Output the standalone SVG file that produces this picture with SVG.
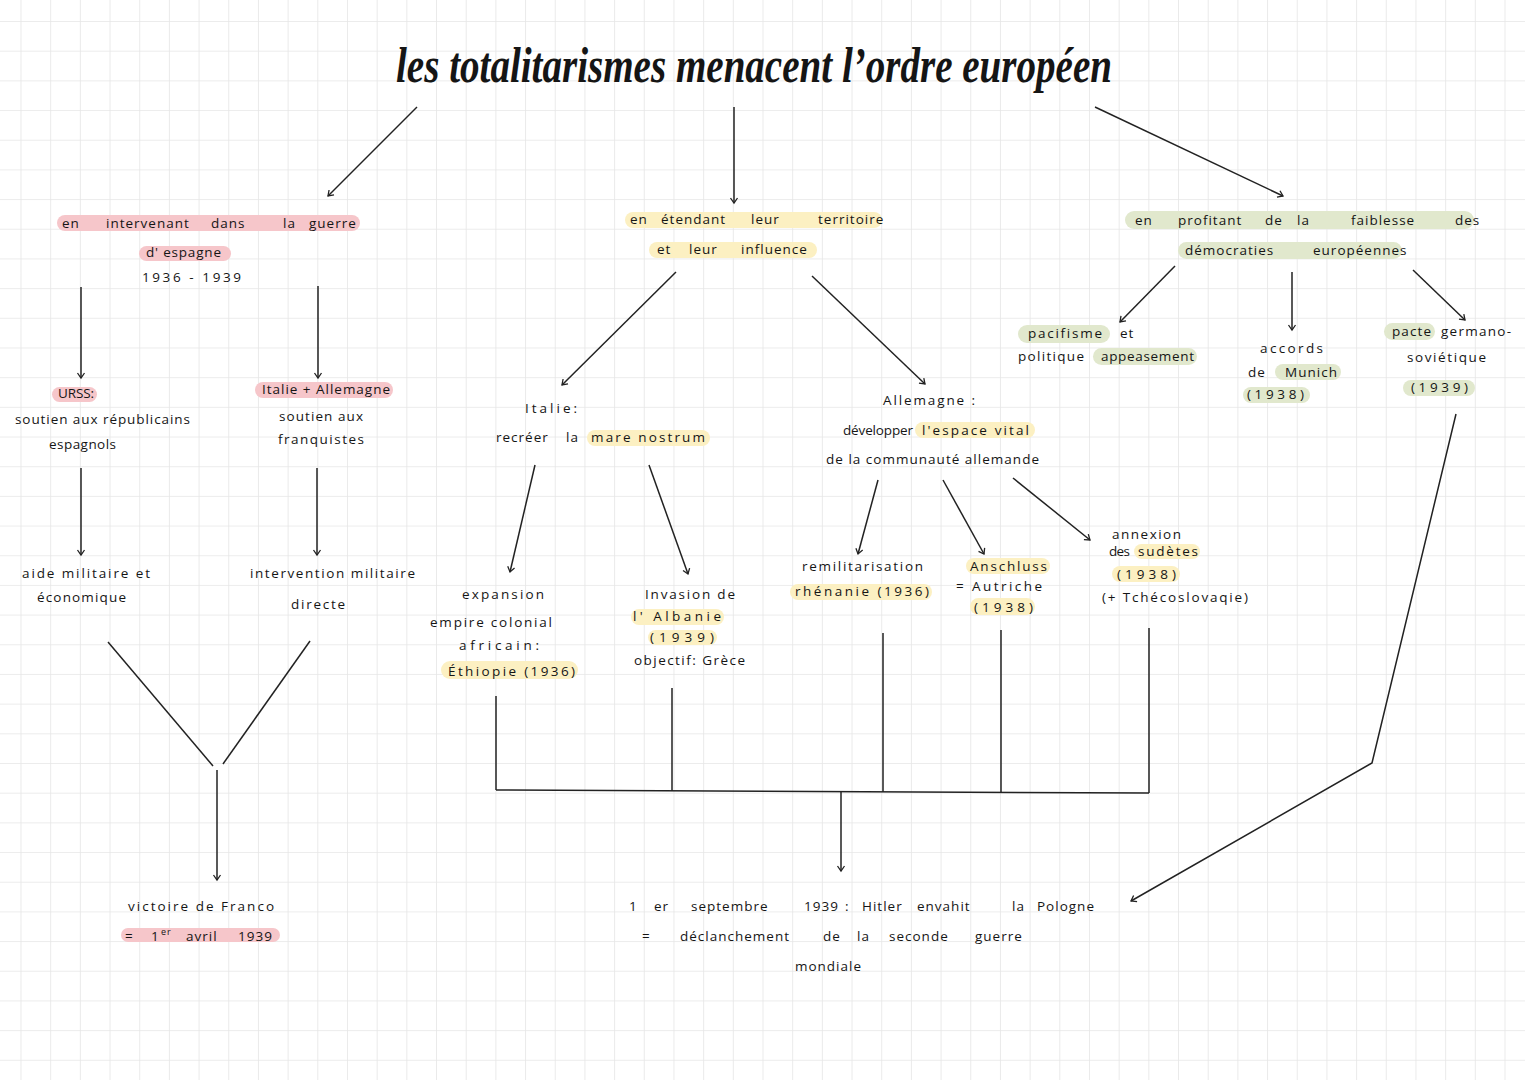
<svg xmlns="http://www.w3.org/2000/svg" width="1525" height="1080" viewBox="0 0 1525 1080">
<defs>
<pattern id="grid" patternUnits="userSpaceOnUse" x="20.5" y="21" width="29.68" height="29.68">
<path d="M0,0 H29.68 M0,0 V29.68" fill="none" stroke="#e6e6e6" stroke-width="1.6"/>
</pattern>
<marker id="ah" markerUnits="userSpaceOnUse" markerWidth="10" markerHeight="10" refX="7" refY="5" orient="auto">
<path d="M2,1.5 L7,5 L2,8.5" fill="none" stroke="#222" stroke-width="1.3"/>
</marker>
<style>
.t{font-family:"Open Sans","DejaVu Sans",sans-serif;font-size:13.5px;fill:#151515;letter-spacing:1px}
.title{font-family:"Liberation Serif","DejaVu Serif",serif;font-style:italic;font-weight:bold;font-size:50px;fill:#151515}
.hp{fill:#f6c6ca}
.hy{fill:#fcf0c2}
.hg{fill:#e1e8cd}
.c{stroke:#222;stroke-width:1.5;fill:none}
.a{marker-end:url(#ah)}
.sup{font-size:9px}
</style>
</defs>
<rect width="1525" height="1080" fill="#ffffff"/>
<rect width="1525" height="1080" fill="url(#grid)"/>

<g id="title">
<text class="title" x="396" y="82" textLength="716" lengthAdjust="spacingAndGlyphs">les totalitarismes menacent l’ordre européen</text>
</g>

<g id="connectors">
<line class="c a" x1="417" y1="107" x2="328" y2="196"/>
<line class="c a" x1="734" y1="107" x2="734" y2="203"/>
<line class="c a" x1="1095" y1="107" x2="1283" y2="196"/>
<line class="c a" x1="81" y1="287" x2="81" y2="378"/>
<line class="c a" x1="318" y1="286" x2="318" y2="378"/>
<line class="c a" x1="81" y1="468" x2="81" y2="555"/>
<line class="c a" x1="317" y1="468" x2="317" y2="555"/>
<line class="c" x1="108" y1="642" x2="213" y2="766"/>
<line class="c" x1="310" y1="641" x2="223" y2="764"/>
<line class="c a" x1="217" y1="770" x2="217" y2="880"/>
<line class="c a" x1="676" y1="272" x2="562" y2="385"/>
<line class="c a" x1="812" y1="276" x2="925" y2="384"/>
<line class="c a" x1="535" y1="465" x2="510" y2="572"/>
<line class="c a" x1="649" y1="465" x2="688" y2="574"/>
<line class="c a" x1="878" y1="480" x2="858" y2="554"/>
<line class="c a" x1="943" y1="480" x2="984" y2="554"/>
<line class="c a" x1="1013" y1="478" x2="1090" y2="540"/>
<line class="c" x1="496" y1="696" x2="496" y2="790"/>
<line class="c" x1="672" y1="688" x2="672" y2="791"/>
<line class="c" x1="883" y1="633" x2="883" y2="792"/>
<line class="c" x1="1001" y1="630" x2="1001" y2="793"/>
<line class="c" x1="1149" y1="628" x2="1149" y2="793"/>
<line class="c" x1="496" y1="790" x2="1149" y2="793"/>
<line class="c a" x1="841" y1="792" x2="841" y2="871"/>
<line class="c a" x1="1175" y1="266" x2="1120" y2="322"/>
<line class="c a" x1="1292" y1="272" x2="1292" y2="330"/>
<line class="c a" x1="1413" y1="270" x2="1465" y2="320"/>
<polyline class="c a" points="1456,414 1372,763 1131,901"/>
</g>

<g id="n-espagne">
<rect class="hp" x="57" y="215" width="303" height="16" rx="8"/>
<rect class="hp" x="139" y="246" width="92" height="15" rx="7.5"/>
<text class="t" y="228"><tspan x="62">en</tspan><tspan x="106">intervenant</tspan><tspan x="211">dans</tspan><tspan x="283">la</tspan><tspan x="309">guerre</tspan></text>
<text class="t" x="146" y="257" textLength="76">d' espagne</text>
<text class="t" x="142" y="282" textLength="100">1936 - 1939</text>
</g>

<g id="n-urss">
<rect class="hp" x="52" y="387" width="45" height="15" rx="7.5"/>
<text class="t" x="58" y="398" textLength="37">URSS:</text>
<text class="t" x="15" y="424" textLength="176">soutien aux républicains</text>
<text class="t" x="49" y="449" textLength="68">espagnols</text>
</g>

<g id="n-italie-allemagne">
<rect class="hp" x="255" y="382" width="138" height="16" rx="8"/>
<text class="t" x="262" y="394" textLength="129">Italie + Allemagne</text>
<text class="t" x="279" y="421" textLength="85">soutien aux</text>
<text class="t" x="278" y="444" textLength="87">franquistes</text>
</g>

<g id="n-aide">
<text class="t" x="22" y="578" textLength="129">aide militaire et</text>
<text class="t" x="37" y="602" textLength="90">économique</text>
</g>

<g id="n-intervention">
<text class="t" x="250" y="578" textLength="166">intervention militaire</text>
<text class="t" x="291" y="609" textLength="55">directe</text>
</g>

<g id="n-franco">
<rect class="hp" x="121" y="928" width="159" height="14" rx="7"/>
<text class="t" x="128" y="911" textLength="147">victoire de Franco</text>
<text class="t" y="941"><tspan x="125">=</tspan><tspan x="151">1</tspan><tspan class="sup" x="161" y="935">er</tspan><tspan x="186" y="941">avril</tspan><tspan x="238">1939</tspan></text>
</g>

<g id="n-territoire">
<rect class="hy" x="625" y="212" width="257" height="16" rx="8"/>
<rect class="hy" x="649" y="242" width="168" height="16" rx="8"/>
<text class="t" y="224"><tspan x="630">en</tspan><tspan x="661">étendant</tspan><tspan x="751">leur</tspan><tspan x="818">territoire</tspan></text>
<text class="t" y="254"><tspan x="657">et</tspan><tspan x="689">leur</tspan><tspan x="741">influence</tspan></text>
</g>

<g id="n-italie">
<rect class="hy" x="587" y="430" width="123" height="16" rx="8"/>
<text class="t" x="525" y="413" textLength="53">Italie:</text>
<text class="t" y="442"><tspan x="496">recréer</tspan><tspan x="566">la</tspan></text>
<text class="t" x="591" y="442" textLength="115">mare nostrum</text>
</g>

<g id="n-expansion">
<rect class="hy" x="441" y="661" width="137" height="18" rx="9"/>
<text class="t" x="462" y="599" textLength="83">expansion</text>
<text class="t" x="430" y="627" textLength="123">empire colonial</text>
<text class="t" x="459" y="650" textLength="81">africain:</text>
<text class="t" x="448" y="676" textLength="128">Éthiopie (1936)</text>
</g>

<g id="n-albanie">
<rect class="hy" x="631" y="609" width="93" height="16" rx="8"/>
<rect class="hy" x="648" y="630" width="69" height="15" rx="7.5"/>
<text class="t" x="645" y="599" textLength="91">Invasion de</text>
<text class="t" x="633" y="621" textLength="89">l' Albanie</text>
<text class="t" x="650" y="642" textLength="65">(1939)</text>
<text class="t" x="634" y="665" textLength="112">objectif: Grèce</text>
</g>

<g id="n-allemagne">
<rect class="hy" x="915" y="422" width="120" height="16" rx="8"/>
<text class="t" x="883" y="405" textLength="93">Allemagne :</text>
<text class="t" x="843" y="435" textLength="71">développer</text>
<text class="t" x="922" y="435" textLength="108">l'espace vital</text>
<text class="t" x="826" y="464" textLength="214">de la communauté allemande</text>
</g>

<g id="n-rhenanie">
<rect class="hy" x="790" y="584" width="142" height="16" rx="8"/>
<text class="t" x="802" y="571" textLength="122">remilitarisation</text>
<text class="t" x="795" y="596" textLength="135">rhénanie (1936)</text>
</g>

<g id="n-anschluss">
<rect class="hy" x="966" y="558" width="84" height="16" rx="8"/>
<rect class="hy" x="970" y="598" width="65" height="17" rx="8.5"/>
<text class="t" x="970" y="571" textLength="78">Anschluss</text>
<text class="t" x="956" y="591" textLength="87">= Autriche</text>
<text class="t" x="974" y="612" textLength="60">(1938)</text>
</g>

<g id="n-sudetes">
<rect class="hy" x="1134" y="544" width="66" height="15" rx="7.5"/>
<rect class="hy" x="1112" y="566" width="68" height="16" rx="8"/>
<text class="t" x="1112" y="539" textLength="70">annexion</text>
<text class="t" x="1109" y="556" textLength="22">des</text>
<text class="t" x="1138" y="556" textLength="61">sudètes</text>
<text class="t" x="1117" y="579" textLength="60">(1938)</text>
<text class="t" x="1102" y="602" textLength="147">(+ Tchécoslovaqie)</text>
</g>

<g id="n-pologne">
<text class="t" y="911"><tspan x="629">1</tspan><tspan x="654">er</tspan><tspan x="691">septembre</tspan><tspan x="804">1939</tspan><tspan x="845">:</tspan><tspan x="862">Hitler</tspan><tspan x="917">envahit</tspan><tspan x="1012">la</tspan><tspan x="1037">Pologne</tspan></text>
<text class="t" y="941"><tspan x="642">=</tspan><tspan x="680">déclanchement</tspan><tspan x="823">de</tspan><tspan x="857">la</tspan><tspan x="889">seconde</tspan><tspan x="975">guerre</tspan></text>
<text class="t" x="795" y="971" textLength="67">mondiale</text>
</g>

<g id="n-faiblesse">
<rect class="hg" x="1125" y="211" width="349" height="18" rx="9"/>
<rect class="hg" x="1178" y="242" width="224" height="17" rx="8.5"/>
<text class="t" y="225"><tspan x="1135">en</tspan><tspan x="1178">profitant</tspan><tspan x="1265">de</tspan><tspan x="1297">la</tspan><tspan x="1351">faiblesse</tspan><tspan x="1455">des</tspan></text>
<text class="t" y="255"><tspan x="1185">démocraties</tspan><tspan x="1313">européennes</tspan></text>
</g>

<g id="n-pacifisme">
<rect class="hg" x="1018" y="325" width="92" height="18" rx="9"/>
<rect class="hg" x="1093" y="348" width="104" height="17" rx="8.5"/>
<text class="t" x="1028" y="338" textLength="75">pacifisme</text>
<text class="t" x="1120" y="338">et</text>
<text class="t" x="1018" y="361" textLength="67">politique</text>
<text class="t" x="1101" y="361" textLength="94">appeasement</text>
</g>

<g id="n-munich">
<rect class="hg" x="1275" y="364" width="66" height="16" rx="8"/>
<rect class="hg" x="1243" y="387" width="67" height="16" rx="8"/>
<text class="t" x="1260" y="353" textLength="64">accords</text>
<text class="t" x="1248" y="377">de</text>
<text class="t" x="1285" y="377" textLength="53">Munich</text>
<text class="t" x="1247" y="399" textLength="58">(1938)</text>
</g>

<g id="n-pacte">
<rect class="hg" x="1384" y="323" width="51" height="17" rx="8.5"/>
<rect class="hg" x="1403" y="380" width="72" height="16" rx="8"/>
<text class="t" x="1392" y="336" textLength="40">pacte</text>
<text class="t" x="1441" y="336" textLength="71">germano-</text>
<text class="t" x="1407" y="362" textLength="80">soviétique</text>
<text class="t" x="1411" y="392" textLength="58">(1939)</text>
</g>
</svg>
